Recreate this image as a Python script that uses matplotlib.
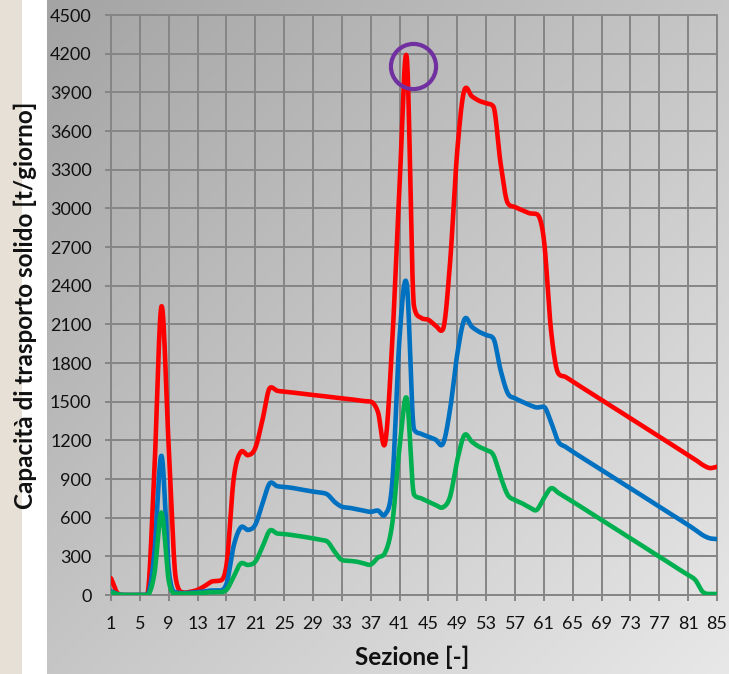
import numpy as np
import matplotlib
matplotlib.use("Agg")
import matplotlib.pyplot as plt
from matplotlib.patches import Rectangle

# --- data -------------------------------------------------------------
sezioni = list(range(1, 86))

portata_alta = [  # red series
    130, 10, 0, 0, 0, 0, 950, 2240, 1150, 120,
    20, 25, 40, 70, 105, 110, 230, 900, 1110, 1085,
    1140, 1360, 1605, 1585, 1578, 1572, 1565, 1558, 1552, 1546,
    1539, 1532, 1526, 1520, 1513, 1505, 1500, 1420, 1180, 1980,
    3180, 4170, 2240, 2150, 2135, 2090, 2060, 2580, 3450, 3920,
    3870, 3835, 3815, 3790, 3350, 3040, 3010, 2985, 2962, 2955,
    2760, 2050, 1720, 1692, 1656, 1620, 1585, 1549, 1513, 1478,
    1442, 1407, 1371, 1335, 1300, 1264, 1228, 1193, 1157, 1122,
    1086, 1050, 1010, 985, 995,
]

portata_media = [  # blue series
    30, 5, 0, 0, 0, 0, 320, 1080, 200, 20,
    15, 18, 22, 28, 35, 35, 85, 380, 525, 505,
    545, 710, 866, 845, 838, 832, 822, 812, 802, 795,
    780, 722, 685, 677, 665, 655, 645, 655, 625, 880,
    2000, 2410, 1285, 1250, 1228, 1205, 1172, 1440, 1870, 2140,
    2082, 2043, 2017, 1990, 1745, 1565, 1526, 1500, 1474, 1455,
    1460, 1340, 1190, 1150, 1112, 1076, 1041, 1005, 970, 934,
    899, 863, 828, 792, 757, 721, 685, 650, 614, 579,
    543, 505, 465, 440, 434,
]

portata_bassa = [  # green series
    20, 5, 0, 0, 0, 0, 160, 640, 110, 10,
    10, 12, 15, 18, 22, 22, 40, 142, 245, 233,
    259, 375, 499, 478, 473, 466, 458, 449, 440, 428,
    414, 336, 272, 265, 259, 246, 236, 290, 330, 560,
    1150, 1525, 780, 750, 724, 698, 680, 763, 1047, 1241,
    1190, 1151, 1125, 1086, 918, 776, 737, 711, 680, 660,
    750, 828, 793, 758, 724, 689, 653, 618, 582, 547,
    511, 476, 440, 404, 369, 333, 297, 262, 226, 190,
    155, 116, 26, 8, 8,
]

x_tick_labels = list(range(1, 86, 4))
y_ticks = list(range(0, 4501, 300))

# highlighted maximum
picco_sezione = 42.86
picco_valore = 4104

FONT = "Lato"


def smooth(x, y, n=24):
    """Cubic Hermite curve through every point, Catmull-Rom tangents
    limited so that flat stretches do not overshoot."""
    x = np.asarray(x, float)
    y = np.asarray(y, float)
    d = np.diff(y)
    m = np.empty_like(y)
    m[0], m[-1] = d[0], d[-1]
    m[1:-1] = (y[2:] - y[:-2]) / 2.0
    for i in range(1, len(y) - 1):
        lim = 3.0 * min(abs(d[i - 1]), abs(d[i]))
        if abs(m[i]) > lim:
            m[i] = np.sign(m[i]) * lim
    t = np.linspace(0, 1, n)[1:]
    xs, ys = [x[0]], [y[0]]
    for i in range(len(y) - 1):
        h00 = 2 * t**3 - 3 * t**2 + 1
        h10 = t**3 - 2 * t**2 + t
        h01 = -2 * t**3 + 3 * t**2
        h11 = t**3 - t**2
        hx = x[i + 1] - x[i]
        ys.extend(h00 * y[i] + h10 * m[i] + h01 * y[i + 1] + h11 * m[i + 1])
        xs.extend(x[i] + t * hx)
    return np.array(xs), np.array(ys)


W, H = 729, 674
fig = plt.figure(figsize=(W / 100, H / 100), dpi=100)
fig.patch.set_facecolor("white")

# beige margin on the far left
fig.add_artist(Rectangle((0, 0), 22 / W, 1, transform=fig.transFigure,
                         facecolor="#E6E0D6", edgecolor="none", zorder=0))

# diagonal grey gradient behind the chart
bg = fig.add_axes([47 / W, 0, (W - 47) / W, 1], zorder=0)
gx = np.linspace(0, 1, 400)
gy = np.linspace(0, 1, 400)
GX, GY = np.meshgrid(gx, gy)
tt = (GX + GY) / 2.0
c0 = np.array([0xA4, 0xA4, 0xA4]) / 255.0
c1 = np.array([0xE8, 0xE8, 0xE8]) / 255.0
img = c0[None, None, :] * (1 - tt[..., None]) + c1[None, None, :] * tt[..., None]
bg.imshow(img, extent=[0, 1, 0, 1], aspect="auto", origin="upper")
bg.set_axis_off()

ax = fig.add_axes([111 / W, (H - 595) / H, 606 / W, 580 / H], zorder=1)
ax.set_facecolor("none")

grid_c = "#858585"
for series, col in [(portata_alta, "#FF0000"),
                    (portata_media, "#0070C0"),
                    (portata_bassa, "#00B050")]:
    sx, sy = smooth(sezioni, series)
    ax.plot(sx, sy, color=col, lw=3.3, solid_capstyle="round",
            solid_joinstyle="round", zorder=3)

ax.plot([picco_sezione], [picco_valore], marker="o", ms=32.5,
        mfc="none", mec="#7030A0", mew=3.0, zorder=4, clip_on=False)

ax.set_xlim(1, 85)
ax.set_ylim(0, 4500)
ax.set_xticks(x_tick_labels)
ax.set_xticklabels([str(v) for v in x_tick_labels])
ax.set_yticks(y_ticks)
ax.set_yticklabels([str(v) for v in y_ticks])
ax.grid(True, color=grid_c, lw=1.4, zorder=1)
ax.set_axisbelow(True)
for sp in ax.spines.values():
    sp.set_color(grid_c)
    sp.set_linewidth(1.4)
ax.tick_params(axis="both", length=4.5, width=1.4, color=grid_c,
               labelsize=13, labelcolor="#111111")
ax.tick_params(axis="x", pad=10.5)
ax.tick_params(axis="y", pad=9.5)
for lab in ax.get_xticklabels() + ax.get_yticklabels():
    lab.set_fontfamily(FONT)

fig.text(25 / W, 1 - 305 / H, "Capacità di trasporto solido [t/giorno]",
         rotation=90, ha="center", va="center", fontsize=17.5,
         fontweight="bold", family=FONT, color="#111111")
fig.text(412 / W, 1 - 657 / H, "Sezione [-]", ha="center", va="center",
         fontsize=17.5, fontweight="bold", family=FONT, color="#111111")

fig.savefig("out.png", dpi=100)
